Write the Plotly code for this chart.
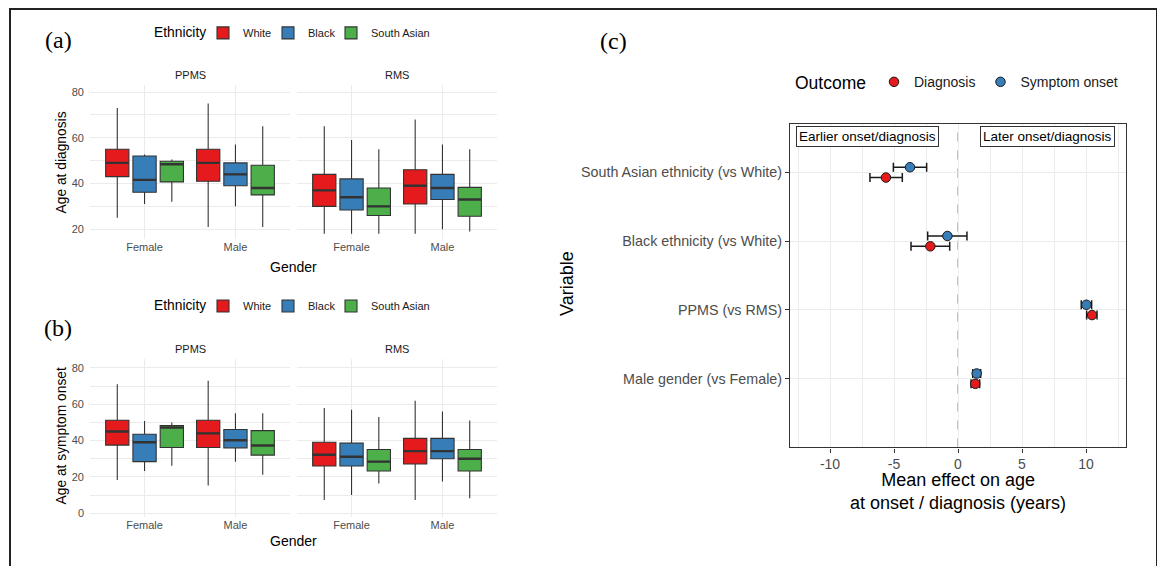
import plotly.graph_objects as go

# page body has an 8px margin; figure is sized so it fills the 1165x566 window
OFF = 8
W, H = 1165 - OFF, 566 - OFF

# ---------------- data ----------------
genders = ["Female", "Male"]
ethnicities = ["White", "Black", "South Asian"]
eth_colors = ["#E41A1C", "#377EB8", "#4DAF4A"]

# Age at diagnosis (rows: White, Black, South Asian; cols: Female, Male)
dx_ppms_low = [[25, 21], [31, 30], [32, 21]]
dx_ppms_q1 = [[43, 41], [36.2, 39], [40.7, 35]]
dx_ppms_med = [[49, 49], [41.6, 44], [48.4, 38]]
dx_ppms_q3 = [[55, 55], [52, 49], [49.7, 48]]
dx_ppms_high = [[73, 75], [52.7, 57], [50.5, 65]]

dx_rms_low = [[18, 18], [18, 20], [18, 19]]
dx_rms_q1 = [[30, 31], [28.4, 33], [26, 25.7]]
dx_rms_med = [[37, 39], [34, 38], [30, 33]]
dx_rms_q3 = [[44, 46], [42, 44], [38, 38.3]]
dx_rms_high = [[65, 68], [59, 57], [55, 55]]

# Age at symptom onset
on_ppms_low = [[18.3, 15.2], [23.2, 28.4], [26.2, 21.2]]
on_ppms_q1 = [[37.5, 36.2], [28.4, 36], [36.2, 32]]
on_ppms_med = [[45, 44], [39.1, 40.2], [47.2, 37.3]]
on_ppms_q3 = [[51.2, 51.2], [43.5, 46.1], [48.3, 45.5]]
on_ppms_high = [[71, 73], [50.8, 55], [50, 55]]

on_rms_low = [[7.3, 7.3], [10, 17.4], [16.3, 8.2]]
on_rms_q1 = [[26, 27.1], [26, 30], [23.2, 23.2]]
on_rms_med = [[32.2, 34.2], [31.1, 34.2], [28.4, 30]]
on_rms_q3 = [[39.1, 41.2], [38.6, 41.2], [35.1, 35.1]]
on_rms_high = [[58, 62], [57, 56], [53, 51]]

# Forest plot (bottom -> top)
variables = ["Male gender (vs Female)", "PPMS (vs RMS)",
             "Black ethnicity (vs White)", "South Asian ethnicity (vs White)"]
diag_mean = [1.35, 10.47, -2.16, -5.63]
diag_lo = [1.02, 10.05, -3.67, -6.88]
diag_hi = [1.69, 10.86, -0.65, -4.35]
onset_mean = [1.46, 10.03, -0.83, -3.75]
onset_lo = [1.15, 9.63, -2.37, -5.05]
onset_hi = [1.77, 10.44, 0.70, -2.45]
x_ticks = [-10, -5, 0, 5, 10]
x_ticktext = ["-10", "-5", "0", "5", "10"]

# ---------------- helpers ----------------
FONT = "Liberation Sans, Arial, sans-serif"
def fx(px):
    return (px - OFF) / W
def fy(py):
    return 1 - (py - OFF) / H

DODGE = 0.3
BOXW = 0.256

fig = go.Figure()

# one legend per ethnicity key so spacing can follow the original
leg_a = ["legend", "legend2", "legend3"]
leg_b = ["legend4", "legend5", "legend6"]

panels = [
    ("x", "y", dx_ppms_low, dx_ppms_q1, dx_ppms_med, dx_ppms_q3, dx_ppms_high, leg_a, True),
    ("x2", "y2", dx_rms_low, dx_rms_q1, dx_rms_med, dx_rms_q3, dx_rms_high, leg_a, False),
    ("x3", "y3", on_ppms_low, on_ppms_q1, on_ppms_med, on_ppms_q3, on_ppms_high, leg_b, True),
    ("x4", "y4", on_rms_low, on_rms_q1, on_rms_med, on_rms_q3, on_rms_high, leg_b, False),
]
for xa, ya, lo, q1, md, q3, hi, legs, show in panels:
    for ei, eth in enumerate(ethnicities):
        pos = [gi + (ei - 1) * DODGE for gi in range(len(genders))]
        fig.add_trace(go.Box(
            x=pos, q1=q1[ei], median=md[ei], q3=q3[ei],
            lowerfence=lo[ei], upperfence=hi[ei],
            width=BOXW, whiskerwidth=0, boxpoints=False,
            fillcolor=eth_colors[ei], line=dict(color="#333333", width=1.1),
            name=eth, legend=legs[ei], showlegend=show, legendgroup=legs[ei] + eth,
            xaxis=xa, yaxis=ya, hoverinfo="skip",
        ))
        # thicker median line
        for gi in range(len(genders)):
            fig.add_trace(go.Scatter(
                x=[pos[gi] - BOXW / 2, pos[gi] + BOXW / 2],
                y=[md[ei][gi], md[ei][gi]], mode="lines",
                line=dict(color="#333333", width=2.4),
                showlegend=False, xaxis=xa, yaxis=ya, hoverinfo="skip",
            ))

# forest plot
ycat = list(range(1, len(variables) + 1))
off = 0.075
fig.add_trace(go.Scatter(
    x=diag_mean, y=[c - off for c in ycat], mode="markers",
    marker=dict(color="#E41A1C", size=9.5, line=dict(color="#1A1A1A", width=1)),
    error_x=dict(type="data", symmetric=False,
                 array=[h - m for h, m in zip(diag_hi, diag_mean)],
                 arrayminus=[m - l for m, l in zip(diag_mean, diag_lo)],
                 color="#1A1A1A", thickness=1.5, width=4.5),
    name="Diagnosis", legend="legend7", xaxis="x5", yaxis="y5",
))
fig.add_trace(go.Scatter(
    x=onset_mean, y=[c + off for c in ycat], mode="markers",
    marker=dict(color="#377EB8", size=9.5, line=dict(color="#1A1A1A", width=1)),
    error_x=dict(type="data", symmetric=False,
                 array=[h - m for h, m in zip(onset_hi, onset_mean)],
                 arrayminus=[m - l for m, l in zip(onset_mean, onset_lo)],
                 color="#1A1A1A", thickness=1.5, width=4.5),
    name="Symptom onset", legend="legend7", xaxis="x5", yaxis="y5",
))

# ---------------- axes ----------------
GRID = "#EBEBEB"
TICKC = "#4D4D4D"
box_x = dict(range=[-0.6, 1.6], tickvals=[0, 1], ticktext=genders,
             showgrid=True, gridcolor=GRID, gridwidth=1, zeroline=False,
             ticks="", showline=False, tickfont=dict(family=FONT, size=11, color=TICKC),
             fixedrange=True)
xa_dom = [fx(90), fx(290)]
xb_dom = [fx(297), fx(497)]
ya_dom = [fy(240), fy(85)]
yb_dom = [fy(519), fy(360)]

def box_y(rng, dom, anchor, show):
    return dict(range=rng, domain=dom, anchor=anchor, dtick=20, tick0=0,
                showgrid=True, gridcolor=GRID, gridwidth=1, zeroline=False,
                ticks="", showticklabels=show, ticklabelstandoff=5,
                tickfont=dict(family=FONT, size=11, color=TICKC),
                minor=dict(dtick=10, showgrid=True, gridcolor=GRID, gridwidth=0.6),
                fixedrange=True)

fig.update_layout(
    xaxis=dict(box_x, domain=xa_dom, anchor="y"),
    xaxis2=dict(box_x, domain=xb_dom, anchor="y2"),
    xaxis3=dict(box_x, domain=xa_dom, anchor="y3"),
    xaxis4=dict(box_x, domain=xb_dom, anchor="y4"),
    yaxis=box_y([15.65, 83.2], ya_dom, "x", True),
    yaxis2=box_y([15.65, 83.2], ya_dom, "x2", False),
    yaxis3=box_y([-2.2, 85.1], yb_dom, "x3", True),
    yaxis4=box_y([-2.2, 85.1], yb_dom, "x4", False),
    xaxis5=dict(domain=[fx(790), fx(1126)], anchor="y5", range=[-13.125, 13.125],
                tickvals=x_ticks, ticktext=x_ticktext,
                showgrid=True, gridcolor=GRID, gridwidth=1.1, zeroline=False,
                showline=True, mirror=True, linecolor="#333333", linewidth=1.2,
                ticks="outside", ticklen=4, tickcolor="#333333", tickwidth=1,
                tickfont=dict(family=FONT, size=14, color=TICKC),
                minor=dict(tickvals=[-12.5, -7.5, -2.5, 2.5, 7.5, 12.5], showgrid=True,
                           gridcolor=GRID, gridwidth=0.6, ticks=""),
                fixedrange=True),
    yaxis5=dict(domain=[fy(449), fy(124)], anchor="x5", range=[0.0, 4.71],
                tickvals=ycat, ticktext=variables,
                showgrid=True, gridcolor=GRID, gridwidth=1.1, zeroline=False,
                showline=True, mirror=True, linecolor="#333333", linewidth=1.2,
                ticks="outside", ticklen=4, tickcolor="#333333", tickwidth=1,
                tickfont=dict(family=FONT, size=14.3, color=TICKC),
                fixedrange=True),
)

# ---------------- legends ----------------
def leg(x, y, isize, title=None, tsize=14):
    d = dict(orientation="h", x=fx(x), y=fy(y), xanchor="left", yanchor="middle",
             font=dict(family=FONT, size=isize, color="#1A1A1A"),
             bgcolor="rgba(0,0,0,0)", borderwidth=0, itemclick=False, itemdoubleclick=False)
    if title:
        d["title"] = dict(text=title, font=dict(family=FONT, size=tsize, color="#000000"), side="left")
    return d

KEY_SHIFT = 22  # distance from legend left edge to key centre (approx.)
key_x = [225, 290, 353]
legend_layout = {}
for i, name in enumerate(leg_a):
    legend_layout[name] = leg(key_x[i] - KEY_SHIFT, 33, 11)
for i, name in enumerate(leg_b):
    legend_layout[name] = leg(key_x[i] - KEY_SHIFT, 307, 11)
legend_layout["legend7"] = leg(793, 83, 14, "Outcome", 17.5)
fig.update_layout(**legend_layout)

# ---------------- annotations ----------------
ann = []
def text(x, y, s, size, color="#000000", angle=0, family=FONT, xanchor="center"):
    ann.append(dict(x=fx(x), y=fy(y), xref="paper", yref="paper", text=s, showarrow=False,
                    font=dict(family=family, size=size, color=color), textangle=angle,
                    xanchor=xanchor, yanchor="middle"))

SERIF = "Liberation Serif, Times New Roman, serif"
text(58, 40, "(a)", 24, family=SERIF)
text(58, 329, "(b)", 24, family=SERIF)
text(613, 41, "(c)", 24, family=SERIF)

text(152, 33, "Ethnicity", 13.8, xanchor="left")
text(152, 307, "Ethnicity", 13.8, xanchor="left")

text(190, 75, "PPMS", 11, "#1A1A1A")
text(397, 75, "RMS", 11, "#1A1A1A")
text(190, 350, "PPMS", 11, "#1A1A1A")
text(397, 350, "RMS", 11, "#1A1A1A")

text(293, 268, "Gender", 14)
text(293, 543, "Gender", 14)
text(61, 163, "Age at diagnosis", 13.8, angle=-90)
text(61, 438, "Age at symptom onset", 13.8, angle=-90)

text(567, 285, "Variable", 18, angle=-90)
text(958, 493, "Mean effect on age<br>at onset / diagnosis (years)", 18)

for lx, s in [(-7.05, "Earlier onset/diagnosis"), (7.0, "Later onset/diagnosis")]:
    ann.append(dict(x=lx, y=4.52, xref="x5", yref="y5", text=s, showarrow=False,
                    font=dict(family=FONT, size=13.5, color="#000000"),
                    bordercolor="#333333", borderwidth=1, borderpad=2, bgcolor="#FFFFFF"))

fig.update_layout(annotations=ann)

# ---------------- shapes ----------------
fig.update_layout(shapes=[
    dict(type="line", xref="x5", yref="y5 domain", x0=0, x1=0, y0=0, y1=1,
         line=dict(color="#A0A0A0", width=1.3, dash="dash"), layer="below"),
    dict(type="rect", xref="paper", yref="paper", x0=fx(10), x1=fx(1157),
         y0=-0.2, y1=fy(9), line=dict(color="#222222", width=2), layer="above"),
])

fig.update_layout(
    width=W, height=H, margin=dict(l=0, r=0, t=0, b=0),
    paper_bgcolor="#FFFFFF", plot_bgcolor="rgba(0,0,0,0)",
    font=dict(family=FONT), showlegend=True,
)

fig.write_html("out.html", config={"displayModeBar": False})
